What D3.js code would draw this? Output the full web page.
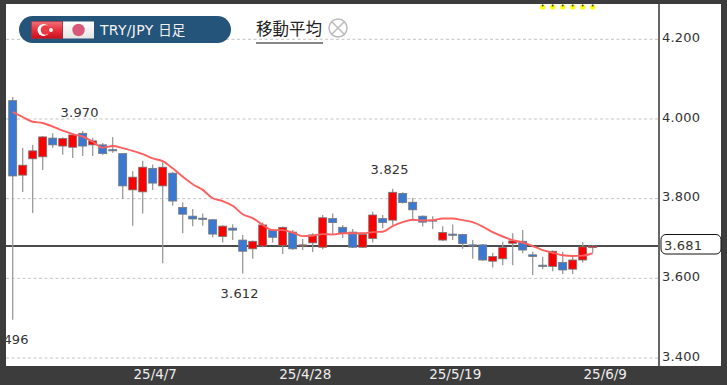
<!DOCTYPE html>
<html><head><meta charset="utf-8">
<script src="https://cdn.jsdelivr.net/npm/d3@7"></script>
<style>html,body{margin:0;padding:0;background:#3c3c3c;overflow:hidden}svg{display:block}text{font-family:"DejaVu Sans",sans-serif}</style>
</head><body>
<script>
const titlePair = "TRY/JPY";
const titleSpan = "日足";
const legendLabel = "移動平均";
const yTicks = [4.2, 4.0, 3.8, 3.6, 3.4];
const xTickIndex = [14, 29, 44, 59];
const xTickLabels = ["25/4/7", "25/4/28", "25/5/19", "25/6/9"];
const lastPrice = 3.681;
const tops = [4.046,3.884,3.920,3.955,3.952,3.951,3.960,3.964,3.945,3.935,3.923,3.913,3.854,3.879,3.876,3.879,3.864,3.778,3.756,3.751,3.747,3.731,3.726,3.696,3.693,3.734,3.721,3.728,3.716,3.684,3.709,3.752,3.750,3.728,3.716,3.710,3.759,3.750,3.816,3.813,3.791,3.756,3.746,3.715,3.711,3.710,3.684,3.684,3.655,3.677,3.694,3.693,3.659,3.633,3.668,3.640,3.646,3.679,3.681];
const bottoms = [3.857,3.859,3.900,3.905,3.935,3.932,3.929,3.932,3.935,3.913,3.920,3.832,3.822,3.817,3.839,3.832,3.794,3.761,3.749,3.748,3.711,3.705,3.721,3.668,3.674,3.681,3.703,3.682,3.674,3.682,3.689,3.678,3.740,3.713,3.678,3.678,3.700,3.740,3.746,3.790,3.772,3.741,3.745,3.696,3.708,3.687,3.681,3.646,3.643,3.649,3.688,3.671,3.655,3.630,3.630,3.621,3.623,3.646,3.677];
const highs = [4.055,3.927,3.935,3.957,3.964,3.954,3.965,3.970,3.952,3.940,3.955,3.913,3.869,3.895,3.886,3.893,3.866,3.791,3.774,3.763,3.749,3.733,3.736,3.709,3.695,3.740,3.723,3.730,3.721,3.699,3.713,3.759,3.763,3.734,3.724,3.715,3.767,3.759,3.825,3.816,3.801,3.758,3.756,3.731,3.735,3.712,3.696,3.686,3.664,3.692,3.713,3.721,3.667,3.654,3.670,3.667,3.654,3.691,3.683];
const lows = [3.496,3.817,3.764,3.872,3.927,3.910,3.902,3.907,3.907,3.910,3.915,3.799,3.732,3.763,3.822,3.638,3.782,3.713,3.731,3.732,3.703,3.690,3.696,3.612,3.649,3.678,3.690,3.661,3.672,3.671,3.666,3.673,3.711,3.701,3.676,3.676,3.690,3.726,3.734,3.788,3.746,3.730,3.724,3.694,3.696,3.674,3.649,3.644,3.627,3.633,3.633,3.663,3.608,3.623,3.618,3.611,3.611,3.640,3.664];
const rising = [0,1,1,1,0,1,1,0,1,0,0,0,1,1,0,1,0,0,0,0,0,1,0,0,1,1,0,1,0,1,1,1,0,0,0,1,1,0,1,0,0,0,0,1,0,0,0,0,1,1,1,0,0,0,1,0,1,1,1];
const movingAverage = [4.018,4.005,3.993,3.990,3.981,3.971,3.962,3.956,3.943,3.928,3.932,3.927,3.920,3.912,3.901,3.894,3.876,3.855,3.836,3.822,3.801,3.794,3.782,3.761,3.751,3.734,3.721,3.721,3.715,3.706,3.707,3.711,3.710,3.713,3.713,3.713,3.716,3.717,3.731,3.741,3.747,3.745,3.746,3.750,3.750,3.746,3.741,3.730,3.716,3.705,3.696,3.690,3.681,3.671,3.664,3.658,3.656,3.657,3.663];
const peakLabels = [
  {i: 7, v: 3.970, text: "3.970", dy: -14},
  {i: 38, v: 3.825, text: "3.825", dy: -15},
  {i: 23, v: 3.612, text: "3.612", dy: 24},
  {i: 0, v: 3.496, text: "3.496", dy: 24}
];
const markerIndex = [53, 54, 55, 56, 57, 58];

const W = 727, H = 385;
const plot = {l: 6, t: 4, r: 721, b: 366, axis: 659};
const x = d3.scaleLinear().domain([0, 58]).range([12.7, 592.7]);
const y = d3.scaleLinear().domain([4.2, 3.4]).range([39.3, 358]);
const svg = d3.select("body").append("svg").attr("width", W).attr("height", H);
const defs = svg.append("defs");
const g1 = defs.append("linearGradient").attr("id", "trk").attr("x2", 0).attr("y2", 1);
g1.append("stop").attr("offset", 0).attr("stop-color", "#f2707a");
g1.append("stop").attr("offset", 0.5).attr("stop-color", "#e8323c");
g1.append("stop").attr("offset", 1).attr("stop-color", "#c8101c");
const g2 = defs.append("linearGradient").attr("id", "jpn").attr("x2", 0).attr("y2", 1);
g2.append("stop").attr("offset", 0).attr("stop-color", "#ffffff");
g2.append("stop").attr("offset", 1).attr("stop-color", "#e4e4e4");
defs.append("clipPath").attr("id", "plotClip").append("rect")
  .attr("x", plot.l).attr("y", plot.t).attr("width", plot.r - plot.l).attr("height", plot.b - plot.t);

svg.append("rect").attr("width", W).attr("height", H).attr("fill", "#3c3c3c");
svg.append("rect").attr("x", plot.l).attr("y", plot.t).attr("width", plot.r - plot.l).attr("height", plot.b - plot.t).attr("fill", "#fff");

const root = svg.append("g").attr("clip-path", "url(#plotClip)");
root.selectAll(".grid").data(yTicks).join("line").attr("class", "grid")
  .attr("x1", plot.l).attr("x2", plot.axis).attr("y1", d => y(d)).attr("y2", d => y(d))
  .attr("stroke", "#c4c4c4").attr("stroke-width", 1).attr("stroke-dasharray", "3 2.5");

root.append("line").attr("x1", plot.l).attr("x2", plot.axis).attr("y1", y(lastPrice)).attr("y2", y(lastPrice))
  .attr("stroke", "#111").attr("stroke-width", 1.4);

const idx = d3.range(tops.length);
root.selectAll(".wick").data(idx).join("line").attr("class", "wick")
  .attr("x1", d => x(d)).attr("x2", d => x(d)).attr("y1", d => y(highs[d])).attr("y2", d => y(lows[d]))
  .attr("stroke", "#9a9a9a").attr("stroke-width", 1.3);
root.selectAll(".body").data(idx).join("rect").attr("class", "body")
  .attr("x", d => x(d) - 4).attr("width", 8)
  .attr("y", d => y(tops[d])).attr("height", d => Math.max(1, y(bottoms[d]) - y(tops[d])))
  .attr("fill", d => rising[d] ? "#fa0000" : "#3a78d2")
  .attr("stroke", "#777").attr("stroke-width", 0.8);

root.append("path").datum(movingAverage)
  .attr("d", d3.line().x((d, i) => x(i)).y(d => y(d)).curve(d3.curveMonotoneX))
  .attr("fill", "none").attr("stroke", "#ff5f5f").attr("stroke-width", 1.9);

root.selectAll(".peak").data(peakLabels).join("text").attr("class", "peak")
  .attr("x", d => x(d.i) - 3).attr("y", d => y(d.v) + d.dy)
  .attr("text-anchor", "middle").attr("font-size", 13).attr("letter-spacing", 0.2).attr("fill", "#333")
  .text(d => d.text);

const markers = root.selectAll(".mark").data(markerIndex).join("g").attr("class", "mark");
markers.append("circle").attr("cx", d => x(d)).attr("cy", 7).attr("r", 2.6).attr("fill", "#ffff00");
markers.append("circle").attr("cx", d => x(d)).attr("cy", 5.5).attr("r", 1).attr("fill", "#444");

// axis rail and labels
svg.append("line").attr("x1", plot.axis).attr("x2", plot.axis).attr("y1", plot.t).attr("y2", plot.b)
  .attr("stroke", "#666").attr("stroke-width", 2);
const yAxis = d3.axisRight(y).tickValues(yTicks).tickFormat(d3.format(".3f")).tickSize(0).tickPadding(0);
const ya = svg.append("g").attr("transform", `translate(${plot.axis + 3},-2)`).call(yAxis);
ya.select(".domain").remove();
ya.selectAll("text").attr("font-size", 13).attr("letter-spacing", 0.2).attr("fill", "#333").style("font-family", '"DejaVu Sans",sans-serif');

svg.append("rect").attr("x", 661).attr("y", 234.5).attr("width", 60).attr("height", 19.5).attr("rx", 5)
  .attr("fill", "#fff").attr("stroke", "#111").attr("stroke-width", 1);
svg.append("text").attr("x", plot.axis + 5).attr("y", y(lastPrice) + 3.5)
  .attr("font-size", 13).attr("letter-spacing", 0.2).attr("fill", "#333").text(d3.format(".3f")(lastPrice));

const xLabel = d3.scaleOrdinal().domain(xTickIndex).range(xTickLabels);
const xAxis = d3.axisBottom(x).tickValues(xTickIndex).tickFormat(d => xLabel(d)).tickSize(0).tickPadding(0);
const xa = svg.append("g").attr("transform", `translate(2,${plot.b + 3})`).call(xAxis);
xa.select(".domain").remove();
xa.selectAll("text").attr("font-size", 13.5).attr("fill", "#eee").style("font-family", '"DejaVu Sans",sans-serif');

// title pill
svg.append("rect").attr("x", 19).attr("y", 16).attr("width", 212).attr("height", 27).attr("rx", 13.5).attr("fill", "#24547a");
svg.append("rect").attr("x", 31.5).attr("y", 21.5).attr("width", 31).attr("height", 17).attr("fill", "url(#trk)").attr("stroke", "#b03038").attr("stroke-width", .6);
svg.append("circle").attr("cx", 43.5).attr("cy", 30).attr("r", 6).attr("fill", "#fff");
svg.append("circle").attr("cx", 45.5).attr("cy", 30).attr("r", 4.8).attr("fill", "#ea3a44");
svg.append("circle").attr("cx", 51).attr("cy", 30).attr("r", 1.9).attr("fill", "#fff");
svg.append("rect").attr("x", 63).attr("y", 21.5).attr("width", 31).attr("height", 17).attr("fill", "url(#jpn)");
svg.append("circle").attr("cx", 78.5).attr("cy", 30).attr("r", 6.2).attr("fill", "#d9587a");
const titleText = svg.append("text").attr("x", 100).attr("y", 34.5).attr("fill", "#f2f2f2")
  .style("font-family", '"DejaVu Sans","Noto Sans CJK JP",sans-serif');
titleText.append("tspan").attr("font-size", 14).attr("letter-spacing", 0.3).text(titlePair + " ");
titleText.append("tspan").attr("font-size", 13.5).text(titleSpan);

// legend
svg.append("text").attr("x", 256).attr("y", 34.5).attr("font-size", 16.5).attr("fill", "#222")
  .style("font-family", '"Noto Sans CJK JP",sans-serif').text(legendLabel);
svg.append("line").attr("x1", 256).attr("x2", 323).attr("y1", 43).attr("y2", 43).attr("stroke", "#111").attr("stroke-width", 1);
svg.append("circle").attr("cx", 338).attr("cy", 28).attr("r", 9).attr("fill", "#fff").attr("stroke", "#bbb").attr("stroke-width", 1.5);
svg.append("path").attr("d", "M332,22L344,34M344,22L332,34").attr("stroke", "#bbb").attr("stroke-width", 1.5);
</script>
</body></html>
